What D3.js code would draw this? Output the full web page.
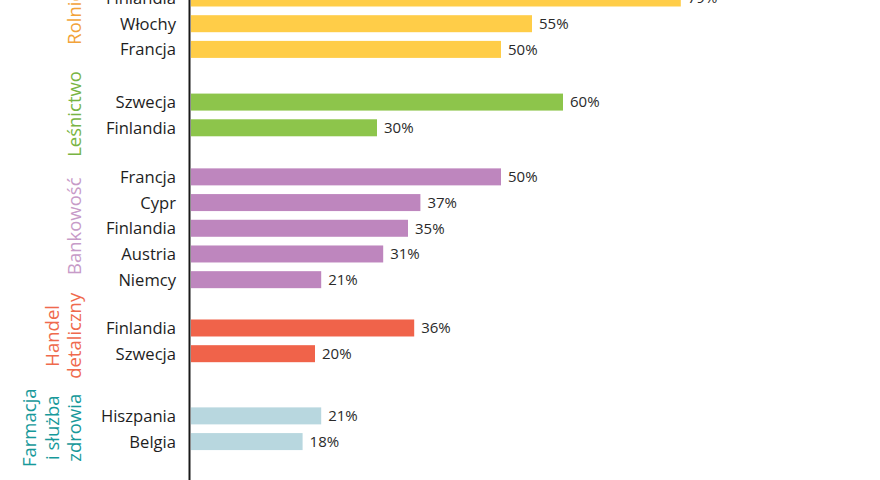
<!DOCTYPE html>
<html>
<head>
<meta charset="utf-8">
<script src="https://cdn.jsdelivr.net/npm/d3@7"></script>
<style>
  body { margin: 0; background: #fff; }
  svg { display: block; font-family: "Open Sans", sans-serif; }
</style>
</head>
<body>
<svg id="chart" width="880" height="480"></svg>
<script>
// sectors, top to bottom (lines of the rotated label)
var sectors = [["Rolnictwo"], ["Leśnictwo"], ["Bankowość"], ["Handel", "detaliczny"], ["Farmacja", "i służba", "zdrowia"]]
var sectorColors = ["#f2a33a", "#78b443", "#c79bc8", "#ef6a4d", "#17999a"]
var barColors = ["#ffcd48", "#8dc54b", "#be86be", "#f0634a", "#b8d7df"]

// countries and values per sector
var countries = [
  ["Finlandia", "Włochy", "Francja"],
  ["Szwecja", "Finlandia"],
  ["Francja", "Cypr", "Finlandia", "Austria", "Niemcy"],
  ["Finlandia", "Szwecja"],
  ["Hiszpania", "Belgia"]
]
var values = [
  [79, 55, 50],
  [60, 30],
  [50, 37, 35, 31, 21],
  [36, 20],
  [21, 18]
]

// spacing (in rows) before each group, and nudge of each sector label (px)
var groupGap = [0, 2.05, 1.91, 1.88, 2.42]
var labelShift = [-21, -1, -2, -5, -1]

var svg = d3.select("#chart")

// flatten into rows
var rows = []
var slot = 0
sectors.forEach(function(s, g) {
  slot += groupGap[g]
  var first = slot
  countries[g].forEach(function(c, i) {
    rows.push({ group: g, country: c, value: values[g][i], slot: slot })
    if (i < countries[g].length - 1) slot += 1
  })
  s.mid = (first + slot) / 2
})

var x = d3.scaleLinear().domain([0, 50]).range([191, 501])
var y = d3.scaleLinear().domain([0, 1]).range([-2, 23.7])
var barH = 17

// bars
svg.selectAll("rect.bar")
  .data(rows)
  .join("rect")
  .attr("class", "bar")
  .attr("x", x(0))
  .attr("y", d => y(d.slot) - barH / 2)
  .attr("width", d => x(d.value) - x(0))
  .attr("height", barH)
  .style("fill", d => barColors[d.group])

// value labels
svg.selectAll("text.val")
  .data(rows)
  .join("text")
  .attr("class", "val")
  .attr("x", d => x(d.value) + 7)
  .attr("y", d => y(d.slot))
  .attr("dy", "0.36em")
  .style("font-size", "15px")
  .style("fill", "#2a2a2a")
  .text(d => d.value + "%")

// country labels
svg.selectAll("text.country")
  .data(rows)
  .join("text")
  .attr("class", "country")
  .attr("x", 176)
  .attr("y", d => y(d.slot))
  .attr("dy", "0.36em")
  .attr("text-anchor", "end")
  .style("font-size", "16.6px")
  .style("fill", "#1e1e1e")
  .text(d => d.country)

// vertical axis line
svg.append("line")
  .attr("x1", 189.5).attr("x2", 189.5)
  .attr("y1", 0).attr("y2", 480)
  .style("stroke", "#1a1a1a")
  .style("stroke-width", 2)

// rotated sector labels
var lineGap = 22.5
sectors.forEach(function(s, g) {
  var n = s.length
  var t = svg.append("text")
    .attr("transform", "translate(81," + (y(s.mid) + labelShift[g]) + ") rotate(-90)")
    .attr("text-anchor", "middle")
    .style("font-size", "18.5px")
    .style("fill", sectorColors[g])
  s.forEach(function(line, i) {
    t.append("tspan")
      .attr("x", 0)
      .attr("y", -(n - 1 - i) * lineGap)
      .text(line)
  })
})
</script>
</body>
</html>
